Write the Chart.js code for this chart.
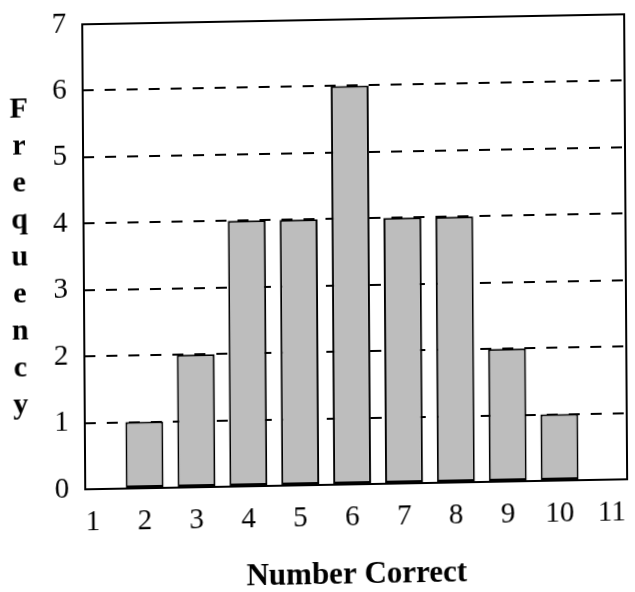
<!DOCTYPE html>
<html>
<head>
<meta charset="utf-8">
<title>Number Correct</title>
<script src="https://cdn.jsdelivr.net/npm/chart.js@4.4.1/dist/chart.umd.min.js"></script>
<style>
  html, body { margin: 0; padding: 0; background: #fff; overflow: hidden; }
  #wrap { width: 635px; height: 592px; }
  /* the scanned original is slightly skewed: rows climb to the right */
  #chart { display: block; transform: rotate(-0.37deg) skewY(-0.69deg); transform-origin: 50% 50%; }
</style>
</head>
<body>
<div id="wrap"><canvas id="chart" width="635" height="592"></canvas></div>
<script>
/* =====================================================
   Data
===================================================== */
const scores = [2, 3, 4, 5, 6, 7, 8, 9, 10];
const frequency = [1, 2, 4, 4, 6, 4, 4, 2, 1];
const xTicks = [1, 2, 3, 4, 5, 6, 7, 8, 9, 10, 11];
const yTicks = [0, 1, 2, 3, 4, 5, 6, 7];
const xTitle = 'Number Correct';
const yTitle = 'Frequency';

const serif = '"Liberation Serif", "Times New Roman", serif';

/* =====================================================
   Plugins
===================================================== */
// y title is written as a column of upright letters
const stackedTitle = {
  id: 'stackedTitle',
  afterDraw(chart) {
    const ctx = chart.ctx;
    const top = chart.chartArea.top;
    ctx.save();
    ctx.font = 'bold 30px ' + serif;
    ctx.fillStyle = '#000';
    ctx.textAlign = 'center';
    ctx.textBaseline = 'alphabetic';
    yTitle.split('').forEach((ch, i) => {
      ctx.fillText(ch, 20, top + 92 + i * 37);
    });
    ctx.restore();
  }
};

// box round the plot area
const frame = {
  id: 'frame',
  afterDatasetsDraw(chart) {
    const { ctx, chartArea: a } = chart;
    ctx.save();
    ctx.strokeStyle = '#000';
    ctx.lineWidth = 2;
    ctx.strokeRect(a.left, a.top, a.right - a.left, a.bottom - a.top);
    ctx.restore();
  }
};

/* =====================================================
   Chart
===================================================== */
new Chart(document.getElementById('chart'), {
  type: 'bar',
  data: {
    datasets: [{
      data: scores.map((s, i) => ({ x: s, y: frequency[i] })),
      backgroundColor: '#bdbdbd',
      borderColor: '#000',
      borderWidth: 2,
      borderSkipped: false,
      barPercentage: 0.73,
      categoryPercentage: 1
    }]
  },
  options: {
    responsive: false,
    animation: false,
    devicePixelRatio: 1,
    layout: { padding: { top: 20, right: 9, left: 0, bottom: 0 } },
    plugins: { legend: { display: false }, tooltip: { enabled: false } },
    scales: {
      x: {
        type: 'linear',
        offset: false,
        min: 0.854,
        max: 11.3,
        afterBuildTicks: s => { s.ticks = xTicks.map(v => ({ value: v })); },
        afterFit: s => { s.height = 107; s.paddingLeft = 0; s.paddingRight = 0; },
        grid: { display: false, drawTicks: false },
        border: { display: false },
        ticks: {
          color: '#000',
          font: { family: serif, size: 29 },
          padding: 16,
          maxRotation: 0,
          autoSkip: false
        },
        title: {
          display: true,
          text: xTitle,
          color: '#000',
          font: { family: serif, size: 31, weight: 'bold', lineHeight: 1 },
          padding: { top: 0, bottom: 1 }
        }
      },
      y: {
        min: 0,
        max: 7,
        afterBuildTicks: s => { s.ticks = yTicks.map(v => ({ value: v })); },
        afterFit: s => { s.width = 84; s.paddingTop = 0; s.paddingBottom = 0; },
        grid: { color: '#000', lineWidth: 2, drawTicks: false },
        border: { display: false, dash: [11, 11] },
        ticks: {
          color: '#000',
          font: { family: serif, size: 29 },
          padding: 16
        }
      }
    }
  },
  plugins: [stackedTitle, frame]
});
</script>
</body>
</html>
